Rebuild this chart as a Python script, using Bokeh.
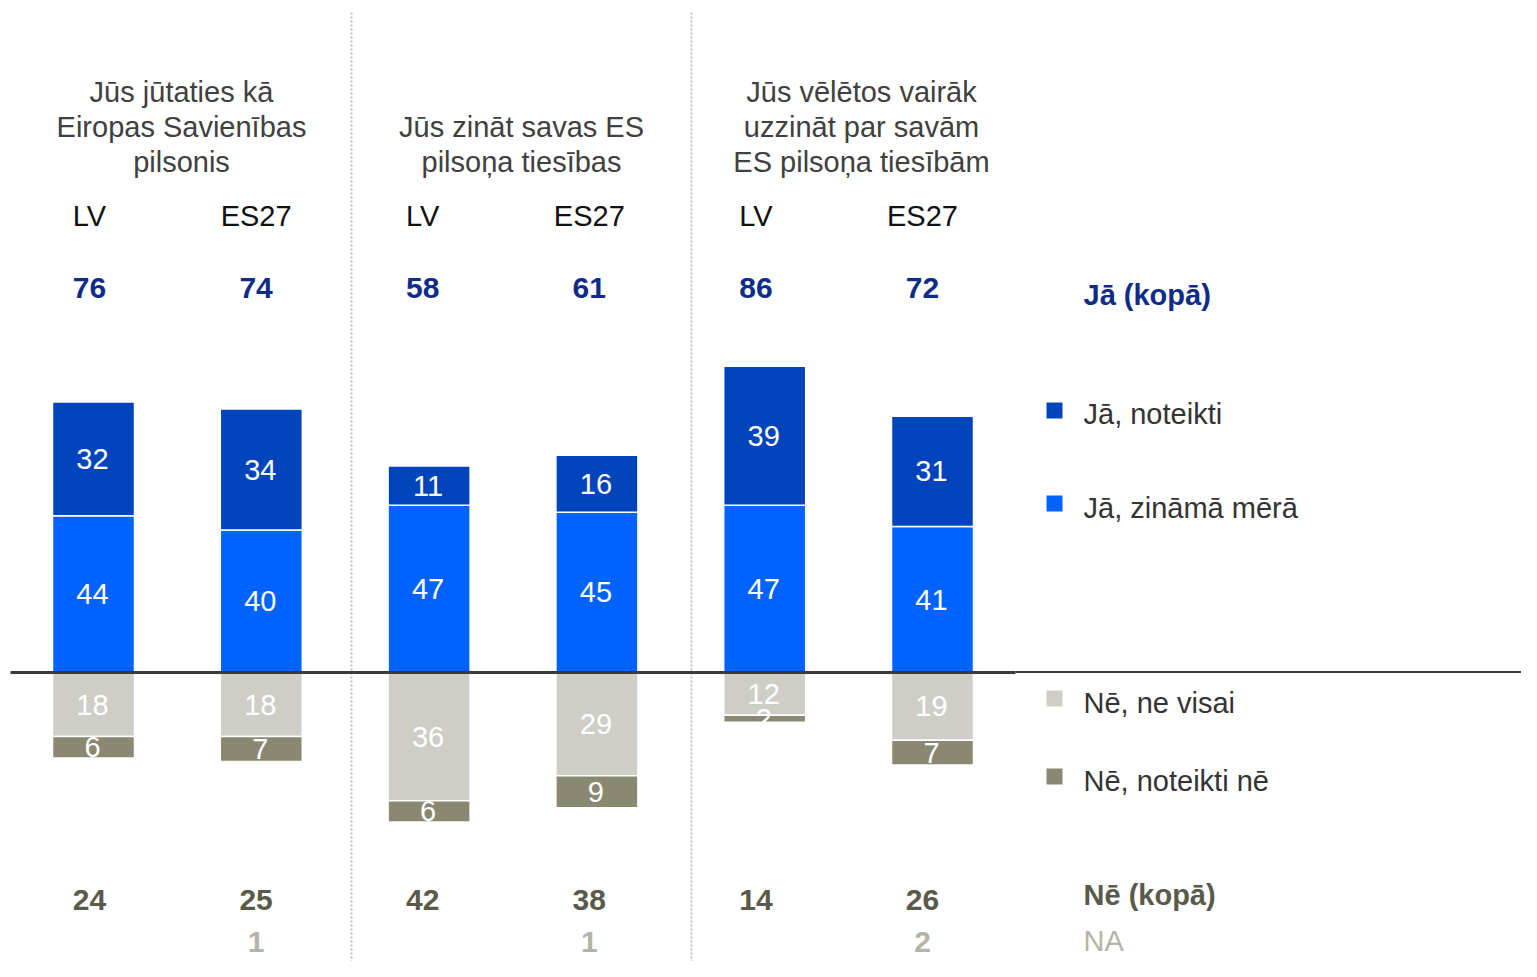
from bokeh.plotting import figure
from bokeh.models import Range1d, ColumnDataSource
from bokeh.core.properties import value
from bokeh.embed import file_html
from bokeh.resources import INLINE

# ---------------- data ----------------
question_lines = [
    ["Jūs jūtaties kā", "Eiropas Savienības", "pilsonis"],
    ["Jūs zināt savas ES", "pilsoņa tiesības"],
    ["Jūs vēlētos vairāk", "uzzināt par savām", "ES pilsoņa tiesībām"],
]
countries = ["LV", "ES27", "LV", "ES27", "LV", "ES27"]
ja_noteikti = [32, 34, 11, 16, 39, 31]
ja_zinama = [44, 40, 47, 45, 47, 41]
ne_ne_visai = [18, 18, 36, 29, 12, 19]
ne_noteikti = [6, 7, 6, 9, 2, 7]
ja_kopa = [76, 74, 58, 61, 86, 72]
ne_kopa = [24, 25, 42, 38, 14, 26]
na_vals = [0, 1, 0, 1, 0, 2]
legend_labels = ["Jā, noteikti", "Jā, zināmā mērā", "Nē, ne visai", "Nē, noteikti nē"]

# ---------------- style ----------------
C_DARK = "#0044BC"
C_BLUE = "#0062FF"
C_LGRAY = "#CECEC6"
C_OLIVE = "#8A8870"
C_NAVY = "#0E2B88"
C_NE = "#5A5A4A"
C_NA = "#B4B4A6"
FONT = value("Liberation Sans")

W, H = 1521, 961
STEP = 167.8          # px between bar centres
X0 = 93.0             # px of first bar centre
BASE = 672.0          # px of zero line
S = 3.56              # px per percentage point


def X(px):
    return (px - X0) / STEP


def Y(py):
    return (BASE - py) / S


p = figure(width=W, height=H, output_backend="svg", toolbar_location=None,
           x_range=Range1d(X(0), X(W)), y_range=Range1d(Y(H), Y(0)),
           x_axis_type=None, y_axis_type=None, min_border=0,
           outline_line_color=None)
p.min_border_left = p.min_border_right = p.min_border_top = p.min_border_bottom = 0
p.xgrid.visible = False
p.ygrid.visible = False
p.background_fill_color = "white"

n = len(countries)
xs = list(range(n))
bw = 82 / STEP

src = ColumnDataSource(dict(
    x=xs,
    z_top=ja_zinama,
    n_top=[a + b for a, b in zip(ja_zinama, ja_noteikti)],
    nv_bot=[-v for v in ne_ne_visai],
    nn_bot=[-(a + b) for a, b in zip(ne_ne_visai, ne_noteikti)],
    zero=[0] * n,
    z_mid=[v / 2 for v in ja_zinama],
    n_mid=[a + b / 2 for a, b in zip(ja_zinama, ja_noteikti)],
    nv_mid=[-v / 2 for v in ne_ne_visai],
    nn_mid=[-(a + b / 2) for a, b in zip(ne_ne_visai, ne_noteikti)],
    jz=[str(v) for v in ja_zinama],
    jn=[str(v) for v in ja_noteikti],
    nv=[str(v) for v in ne_ne_visai],
    nn=[str(v) for v in ne_noteikti],
))

# dotted separators
for px in (351, 691):
    p.segment(x0=[X(px)], y0=[Y(12)], x1=[X(px)], y1=[Y(990)],
              line_color="#BEBEBE", line_width=2, line_dash="2 2")

# bars
p.vbar(x="x", width=bw, bottom="zero", top="z_top", source=src,
       fill_color=C_BLUE, line_color="white", line_width=1.5)
p.vbar(x="x", width=bw, bottom="z_top", top="n_top", source=src,
       fill_color=C_DARK, line_color="white", line_width=1.5)
p.vbar(x="x", width=bw, bottom="nv_bot", top="zero", source=src,
       fill_color=C_LGRAY, line_color="white", line_width=1.5)
p.vbar(x="x", width=bw, bottom="nn_bot", top="nv_bot", source=src,
       fill_color=C_OLIVE, line_color="white", line_width=1.5)

# segment labels
lab = dict(source=src, text_color="white", text_font=FONT, text_font_size="29px",
           text_align="center", text_baseline="middle", x_offset=-1)
p.text(x="x", y="z_mid", text="jz", **lab)
p.text(x="x", y="n_mid", text="jn", **lab)
p.text(x="x", y="nv_mid", text="nv", **lab)
p.text(x="x", y="nn_mid", text="nn", **lab)

# zero line
p.segment(x0=[X(10)], y0=[0], x1=[X(1015)], y1=[0], line_color="#3A3A3A", line_width=3)
p.segment(x0=[X(1015)], y0=[Y(671.5)], x1=[X(1534)], y1=[Y(671.5)],
          line_color="#3A3A3A", line_width=2)

# question titles
tx, ty, tt = [], [], []
for g, lines in enumerate(question_lines):
    start = 161 - 35 * (len(lines) - 1)
    for k, line in enumerate(lines):
        tx.append(X(181 + 340 * g))
        ty.append(Y(start + 35 * k))
        tt.append(line)
p.text(x=tx, y=ty, text=tt, text_color="#404040", text_font=FONT,
       text_font_size="29px", text_align="center", text_baseline="middle")

# country / total label columns
cx = [x - (4 + 1.2 * x) / STEP for x in xs]
p.text(x=cx, y=[Y(215)] * n, text=countries, text_color="#111111", text_font=FONT,
       text_font_size="29px", text_align="center", text_baseline="middle")

# totals
p.text(x=cx, y=[Y(287)] * n, text=[str(v) for v in ja_kopa], text_color=C_NAVY,
       text_font=FONT, text_font_size="30px", text_font_style="bold",
       text_align="center", text_baseline="middle")
p.text(x=cx, y=[Y(899)] * n, text=[str(v) for v in ne_kopa], text_color=C_NE,
       text_font=FONT, text_font_size="30px", text_font_style="bold",
       text_align="center", text_baseline="middle")
p.text(x=cx, y=[Y(941)] * n, text=[str(v) if v > 0 else "" for v in na_vals],
       text_color=C_NA, text_font=FONT, text_font_size="30px", text_font_style="bold",
       text_align="center", text_baseline="middle")

# legend
leg_colors = [C_DARK, C_BLUE, C_LGRAY, C_OLIVE]
leg_sq_y = [410, 503, 698, 776]
leg_tx_y = [413, 507, 702, 780]
p.scatter(x=[X(1054)] * 4, y=[Y(v) for v in leg_sq_y], marker="square", size=16,
          fill_color=leg_colors, line_color=None)
p.text(x=[X(1083)] * 4, y=[Y(v) for v in leg_tx_y], text=legend_labels,
       text_color="#333333", text_font=FONT, text_font_size="29px",
       text_align="left", text_baseline="middle")
p.text(x=[X(1083)], y=[Y(294)], text=["Jā (kopā)"], text_color=C_NAVY, text_font=FONT,
       text_font_size="29px", text_font_style="bold", text_align="left", text_baseline="middle")
p.text(x=[X(1083)], y=[Y(894)], text=["Nē (kopā)"], text_color=C_NE, text_font=FONT,
       text_font_size="29px", text_font_style="bold", text_align="left", text_baseline="middle")
p.text(x=[X(1083)], y=[Y(940)], text=["NA"], text_color=C_NA, text_font=FONT,
       text_font_size="29px", text_align="left", text_baseline="middle")

open("out.html", "w").write(file_html(p, INLINE))
